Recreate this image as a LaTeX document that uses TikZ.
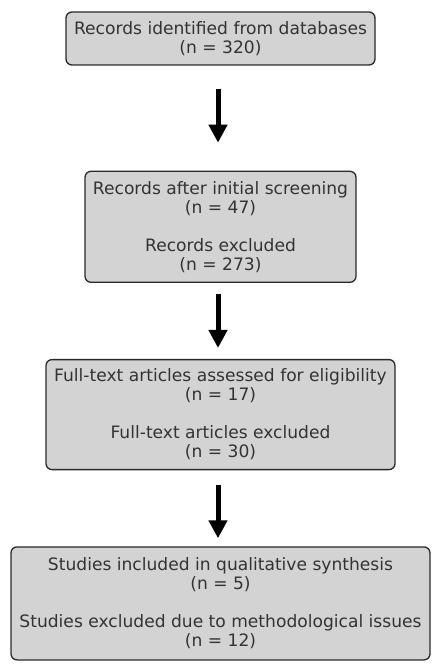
\documentclass[tikz,border=0pt]{standalone}
\usepackage{fontspec}
\setmainfont{DejaVu Sans}
\usetikzlibrary{positioning, arrows.meta}
\definecolor{boxfill}{HTML}{D3D3D3}
\definecolor{ink}{HTML}{333333}

\begin{document}
\begin{tikzpicture}[
  x=1pt, y=1pt,
  node distance=76pt,
  stage/.style={draw=ink!80!black, line width=1.3pt, rounded corners=6pt,
                fill=boxfill, text=ink, align=center,
                font=\fontsize{17.1}{19}\selectfont},
  ar/.style={-{Triangle[width=18pt,length=18pt]}, line width=5pt, black},
]
  \useasboundingbox (0,0) rectangle (435,-668);

  \node[stage, minimum width=309pt, minimum height=53pt] (ident) at (220.5,-38.5)
    {Records identified from databases\\(n = 320)};
  \node[stage, minimum width=271pt, minimum height=111pt, below=105pt of ident] (screen)
    {Records after initial screening\\(n = 47)\\[19pt]Records excluded\\(n = 273)};
  \node[stage, minimum width=349pt, minimum height=110pt, below=of screen] (elig)
    {Full-text articles assessed for eligibility\\(n = 17)\\[19pt]Full-text articles excluded\\(n = 30)};
  \node[stage, minimum width=419pt, minimum height=113pt, below=of elig] (incl)
    {Studies included in qualitative synthesis\\(n = 5)\\[19pt]Studies excluded due to methodological issues\\(n = 12)};

  \draw[ar, shorten <=23pt, shorten >=28pt] ([xshift=-2.5pt]ident.south) -- ([xshift=-2.5pt]screen.north);
  \draw[ar, shorten <=11pt, shorten >=11pt] ([xshift=-2.5pt]screen.south) -- ([xshift=-2.5pt]elig.north);
  \draw[ar, shorten <=15pt, shorten >=8pt] ([xshift=-2.5pt]elig.south) -- ([xshift=-2.5pt]incl.north);
\end{tikzpicture}
\end{document}
